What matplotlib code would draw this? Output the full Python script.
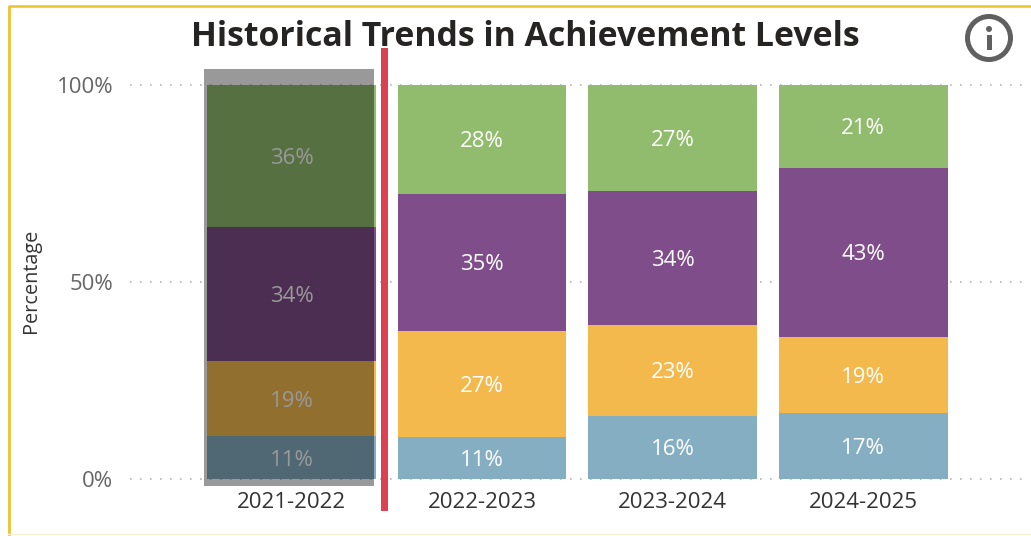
import matplotlib
matplotlib.use('Agg')
import matplotlib.pyplot as plt
from matplotlib.patches import Circle, Rectangle

plt.rcParams['font.family'] = ['Open Sans', 'DejaVu Sans']

years = ['2021-2022', '2022-2023', '2023-2024', '2024-2025']
# stacked bottom to top
blue_vals = [10.9, 10.7, 16.0, 16.8]
orange_vals = [19.0, 26.9, 23.1, 19.3]
purple_vals = [34.0, 34.8, 34.0, 42.9]
green_vals = [36.1, 27.6, 26.9, 21.0]
blue_lab = ['11%', '11%', '16%', '17%']
orange_lab = ['19%', '27%', '23%', '19%']
purple_lab = ['34%', '35%', '34%', '43%']
green_lab = ['36%', '28%', '27%', '21%']
yticks = [0, 50, 100]

W, H = 1031, 536
fig = plt.figure(figsize=(W/100, H/100), dpi=100)

# axes placed so 0% / 100% land on the same pixels as the reference
ax_l, ax_r = 130, 1022
y0_px, y100_px = 479, 85
ax = fig.add_axes([ax_l/W, 1-y0_px/H, (ax_r-ax_l)/W, (y0_px-y100_px)/H])
ax.set_xlim((ax_l-291.5)/190.6, (ax_r-291.5)/190.6)
ax.set_ylim(0, 100)

series = [(blue_vals, blue_lab, '#86AEC2'),
          (orange_vals, orange_lab, '#F3B94D'),
          (purple_vals, purple_lab, '#7F4D8A'),
          (green_vals, green_lab, '#91BB6D')]

bottom = [0, 0, 0, 0]
for vals, labs, col in series:
    for i in range(len(years)):
        ax.bar(i, vals[i], bottom=bottom[i], width=0.884, color=col, zorder=2)
        ax.text(i, bottom[i]+vals[i]/2, labs[i], ha='center', va='center_baseline',
                color='white', fontsize=16, zorder=3)
        bottom[i] += vals[i]

ax.set_xticks(range(len(years)))
ax.set_xticklabels(years, fontsize=16, color='#333333')
ax.set_yticks(yticks)
ax.set_yticklabels([str(t)+'%' for t in yticks], fontsize=16, color='#666666')
ax.tick_params(length=0)
ax.tick_params(axis='x', pad=9)
ax.tick_params(axis='y', pad=12)
ax.grid(axis='y', color='#b5b5b5', linewidth=1.2, linestyle=(0, (1, 5.0)), zorder=1, clip_on=False)
ax.set_axisbelow(True)
for s in ax.spines.values():
    s.set_visible(False)

# pixel overlay for the frame, spotlight, marker and icon
ov = fig.add_axes([0, 0, 1, 1], zorder=5)
ov.set_xlim(0, W)
ov.set_ylim(H, 0)
ov.axis('off')
ov.patch.set_alpha(0)

ov.plot([9, 9], [6, H], color='#E9C944', lw=2.2, solid_capstyle='butt')
ov.plot([8, W], [6, 6], color='#E9C231', lw=1.8, solid_capstyle='butt')
ov.plot([8, W], [534, 534], color='#F5F0D0', lw=1)

ov.add_patch(Rectangle((204, 69), 170, 417, facecolor='black', alpha=0.4, edgecolor='none'))
ov.add_patch(Rectangle((381, 48), 7, 463, facecolor='#DC4152', edgecolor='none'))

ov.add_patch(Circle((989, 38), 21.5, facecolor='none', edgecolor='#606060', lw=3.6))
ov.add_patch(Rectangle((986.5, 35), 5, 15, facecolor='#606060', edgecolor='none'))
ov.add_patch(Circle((989, 29), 3, facecolor='#606060', edgecolor='none'))

fig.text(525/W, 1-37/H, 'Historical Trends in Achievement Levels', ha='center', va='center',
         fontsize=24.4, fontweight='bold', color='#252423')
fig.text(31/W, 1-280.5/H, 'Percentage', rotation=90, ha='center', va='center',
         fontsize=14.3, color='#333333')

fig.savefig('out.png', dpi=100)
